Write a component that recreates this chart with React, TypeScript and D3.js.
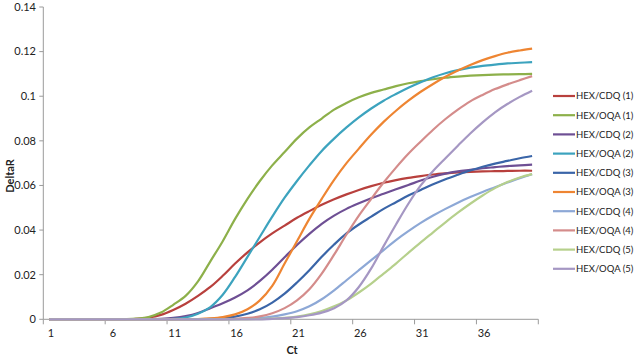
import React from "react";
import * as d3 from "d3";

const cts = d3.range(1, 41);
const xTickLabels = ["1", "6", "11", "16", "21", "26", "31", "36"];
const yTicks = [0, 0.02, 0.04, 0.06, 0.08, 0.1, 0.12, 0.14];

const seriesNames = [
  "HEX/CDQ (1)", "HEX/OQA (1)", "HEX/CDQ (2)", "HEX/OQA (2)", "HEX/CDQ (3)",
  "HEX/OQA (3)", "HEX/CDQ (4)", "HEX/OQA (4)", "HEX/CDQ (5)", "HEX/OQA (5)",
];
const seriesColors = [
  "#B8403D", "#8DB04A", "#6E4F94", "#3CA3BE", "#3A65A8",
  "#EE8532", "#8DA8D6", "#D48C8B", "#B6D08C", "#A597C3",
];

const cdq1 = [0, 0, 0, 0, 0, 0, 0, 0.0002, 0.0008, 0.002, 0.0042, 0.007, 0.0105, 0.0145, 0.0195, 0.025, 0.03, 0.0345, 0.0385, 0.042, 0.0455, 0.0485, 0.0513, 0.0538, 0.056, 0.058, 0.0597, 0.0612, 0.0624, 0.0634, 0.0642, 0.0649, 0.0654, 0.0658, 0.0661, 0.0663, 0.0664, 0.0665, 0.0666, 0.0666];
const oqa1 = [0, 0, 0, 0, 0, 0, 0.0001, 0.0003, 0.001, 0.003, 0.0065, 0.0105, 0.017, 0.026, 0.035, 0.045, 0.054, 0.062, 0.069, 0.075, 0.081, 0.086, 0.09, 0.094, 0.097, 0.0995, 0.1015, 0.103, 0.1045, 0.1058, 0.1068, 0.1076, 0.1083, 0.1088, 0.1092, 0.1095, 0.1097, 0.1098, 0.1099, 0.11];
const cdq2 = [0, 0, 0, 0, 0, 0, 0, 0, 0, 0.0002, 0.0006, 0.0014, 0.0028, 0.005, 0.0072, 0.0098, 0.013, 0.0172, 0.0222, 0.0278, 0.0333, 0.0383, 0.0428, 0.0465, 0.0495, 0.052, 0.0543, 0.0563, 0.0583, 0.0602, 0.0622, 0.0639, 0.0653, 0.0663, 0.067, 0.0677, 0.0682, 0.0687, 0.069, 0.0693];
const oqa2 = [0, 0, 0, 0, 0, 0, 0, 0, 0, 0, 0.0002, 0.0008, 0.0025, 0.0055, 0.011, 0.019, 0.028, 0.037, 0.046, 0.0545, 0.062, 0.069, 0.0755, 0.081, 0.086, 0.0905, 0.0945, 0.098, 0.101, 0.1038, 0.1063, 0.1085, 0.1103, 0.1117, 0.1128, 0.1136, 0.1142, 0.1147, 0.115, 0.1153];
const cdq3 = [0, 0, 0, 0, 0, 0, 0, 0, 0, 0, 0, 0, 0, 0.0002, 0.0005, 0.0012, 0.0025, 0.0045, 0.0075, 0.0115, 0.0165, 0.022, 0.028, 0.0335, 0.0385, 0.0425, 0.046, 0.0495, 0.0525, 0.0555, 0.058, 0.0605, 0.0628, 0.0648, 0.0667, 0.0684, 0.0698, 0.071, 0.0722, 0.0732];
const oqa3 = [0, 0, 0, 0, 0, 0, 0, 0, 0, 0, 0, 0, 0.0001, 0.0004, 0.001, 0.0022, 0.0045, 0.0085, 0.015, 0.025, 0.035, 0.045, 0.054, 0.0625, 0.07, 0.0765, 0.0828, 0.0885, 0.0935, 0.098, 0.102, 0.1055, 0.1087, 0.1115, 0.114, 0.1162, 0.118, 0.1195, 0.1205, 0.1213];
const cdq4 = [0, 0, 0, 0, 0, 0, 0, 0, 0, 0, 0, 0, 0, 0, 0, 0.0001, 0.0003, 0.0006, 0.0012, 0.0022, 0.0036, 0.0058, 0.009, 0.013, 0.0175, 0.022, 0.0265, 0.031, 0.0355, 0.0395, 0.0432, 0.0465, 0.0495, 0.0523, 0.0548, 0.0571, 0.0592, 0.0613, 0.0633, 0.0651];
const oqa4 = [0, 0, 0, 0, 0, 0, 0, 0, 0, 0, 0, 0, 0, 0, 0, 0.0002, 0.0006, 0.0013, 0.0027, 0.005, 0.0085, 0.0135, 0.0205, 0.029, 0.038, 0.0465, 0.054, 0.0613, 0.068, 0.0742, 0.0797, 0.085, 0.0898, 0.094, 0.0977, 0.1006, 0.1032, 0.1053, 0.1072, 0.109];
const cdq5 = [0, 0, 0, 0, 0, 0, 0, 0, 0, 0, 0, 0, 0, 0, 0, 0, 0, 0.0001, 0.0003, 0.0006, 0.0012, 0.0022, 0.0037, 0.0058, 0.0085, 0.012, 0.016, 0.0205, 0.025, 0.0298, 0.0345, 0.039, 0.0435, 0.0478, 0.0518, 0.0555, 0.0588, 0.0615, 0.0636, 0.0651];
const oqa5 = [0, 0, 0, 0, 0, 0, 0, 0, 0, 0, 0, 0, 0, 0, 0, 0, 0, 0, 0.0002, 0.0005, 0.001, 0.0018, 0.003, 0.005, 0.0085, 0.0145, 0.0228, 0.0328, 0.0425, 0.0518, 0.06, 0.0665, 0.0722, 0.0778, 0.0833, 0.0883, 0.0928, 0.0965, 0.0997, 0.1025];

const seriesValues = [cdq1, oqa1, cdq2, oqa2, cdq3, oqa3, cdq4, oqa4, cdq5, oqa5];

const W = 635, H = 357;
const plotLeft = 43.3, plotRight = 538.3, plotTop = 7, plotBottom = 319.3;
const FONT = "Lato, 'Open Sans', sans-serif";

export default function App() {
  const x = d3.scalePoint<number>().domain(cts).range([plotLeft, plotRight]).padding(0.5);
  const y = d3.scaleLinear().domain([0, 0.14]).range([plotBottom, plotTop]);
  const step = x.step();
  const line = d3.line<number>()
    .x((_, i) => x(cts[i]) as number)
    .y((d) => Math.min(plotBottom, y(d)))
    .curve(d3.curveCatmullRom.alpha(0.5));
  const boundaryTicks = d3.range(0, 41, 5);
  const legendTop = 96, legendStep = 19.2;

  return (
    <svg width={W} height={H} style={{ position: "absolute", left: 0, top: 0, background: "#fff" }} fontFamily={FONT}>
      <rect x={0} y={0} width={W} height={H} fill="#fff" />
      {/* y axis */}
      <line x1={plotLeft} x2={plotLeft} y1={plotTop} y2={plotBottom} stroke="#9a9a9a" strokeWidth={1} />
      {yTicks.map((t) => (
        <g key={t}>
          <line x1={plotLeft - 4} x2={plotLeft} y1={y(t)} y2={y(t)} stroke="#9a9a9a" />
          <text x={36} y={y(t)} dy="0.35em" textAnchor="end" fontSize={11} fill="#222">
            {t === 0 ? "0" : String(+t.toFixed(2))}
          </text>
        </g>
      ))}
      {/* x axis */}
      <line x1={plotLeft} x2={plotRight} y1={plotBottom} y2={plotBottom} stroke="#9a9a9a" />
      {boundaryTicks.map((k) => (
        <line key={k} x1={plotLeft + k * step} x2={plotLeft + k * step} y1={plotBottom} y2={plotBottom + 5} stroke="#9a9a9a" />
      ))}
      {xTickLabels.map((lab) => (
        <text key={lab} x={(x(+lab) as number) + 1.5} y={333} dy="0.35em" textAnchor="middle" fontSize={11} fill="#222">
          {lab}
        </text>
      ))}
      <text x={292} y={350} dy="0.35em" textAnchor="middle" fontSize={11} fontWeight="bold" fill="#222">Ct</text>
      <text transform={`translate(10,176) rotate(-90)`} dy="0.35em" textAnchor="middle" fontSize={11} fontWeight="bold" fill="#222">DeltaR</text>
      {/* series */}
      {seriesValues.map((vals, i) => (
        <path key={seriesNames[i]} d={line(vals) || ""} fill="none" stroke={seriesColors[i]} strokeWidth={2.2} strokeLinejoin="round" />
      ))}
      {/* legend */}
      {seriesNames.map((name, i) => (
        <g key={name} transform={`translate(0,${legendTop + i * legendStep})`}>
          <line x1={553} x2={575} y1={0} y2={0} stroke={seriesColors[i]} strokeWidth={2.2} />
          <text x={576} y={0} dy="0.35em" fontSize={9.5} fill="#222">{name}</text>
        </g>
      ))}
    </svg>
  );
}
